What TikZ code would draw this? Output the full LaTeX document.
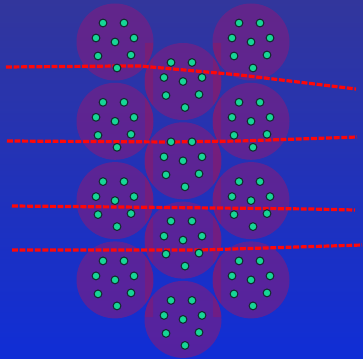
\documentclass[tikz,border=0pt]{standalone}

\definecolor{bgtop}{RGB}{50,54,156}
\definecolor{bgbottom}{RGB}{16,46,214}
\definecolor{cellpurple}{RGB}{128,28,128}
\definecolor{spotgreen}{RGB}{22,214,150}
\definecolor{spotedge}{RGB}{18,44,48}
\definecolor{cutred}{RGB}{255,8,8}

\begin{document}
\begin{tikzpicture}[x=0.75pt, y=-0.75pt,
    cell/.style={fill=cellpurple, fill opacity=0.62},
    spot/.style={fill=spotgreen, draw=spotedge, line width=0.8pt},
    cutline/.style={draw=cutred, line width=2.4pt, dash pattern=on 4.4pt off 1.3pt}]

    \shade[top color=bgtop, bottom color=bgbottom] (0,0) rectangle (363,359);
    \useasboundingbox (0,0) rectangle (363,359);

    % cells
    \foreach \cx/\cy in {115/42, 115/121.3, 115/200.6, 115/279.9,
                         183/81.5, 183/160.8, 183/240.1, 183/319.4,
                         251/42, 251/121.3, 251/200.6, 251/279.9}
        \fill[cell] (\cx,\cy) circle (38.5);

    \begin{scope}
        \clip foreach \cx/\cy in {115/42, 115/121.3, 115/200.6, 115/279.9,
                                  183/81.5, 183/160.8, 183/240.1, 183/319.4,
                                  251/42, 251/121.3, 251/200.6, 251/279.9}
            {(\cx,\cy) circle (38.5)};
        \fill[red, opacity=0.15] (145,43) rectangle (153,317)
                                 (213,43) rectangle (221,317);
    \end{scope}

    % cut lines
    \draw[cutline] (6,67) -- (120,66) -- (140,66) -- (240,75) -- (356,89);
    \draw[cutline] (7,141) -- (170,142) -- (240,141) -- (357,137);
    \draw[cutline] (12,206) -- (120,207) -- (310,209) -- (355,210);
    \draw[cutline] (12,250) -- (200,250) -- (362,245);

    % spots
    \foreach \cx/\cy in {115/42, 115/121.3, 115/200.6, 115/279.9,
                         183/81.5, 183/160.8, 183/240.1, 183/319.4,
                         251/42, 251/121.3, 251/200.6, 251/279.9}
        \foreach \dx/\dy in {-12/-19, 9/-19, -19/-4, 0/0, 19/-4, -17/14, 16/13, 2/26}
            \filldraw[spot] (\cx+\dx,\cy+\dy) circle (3.9);

\end{tikzpicture}
\end{document}
